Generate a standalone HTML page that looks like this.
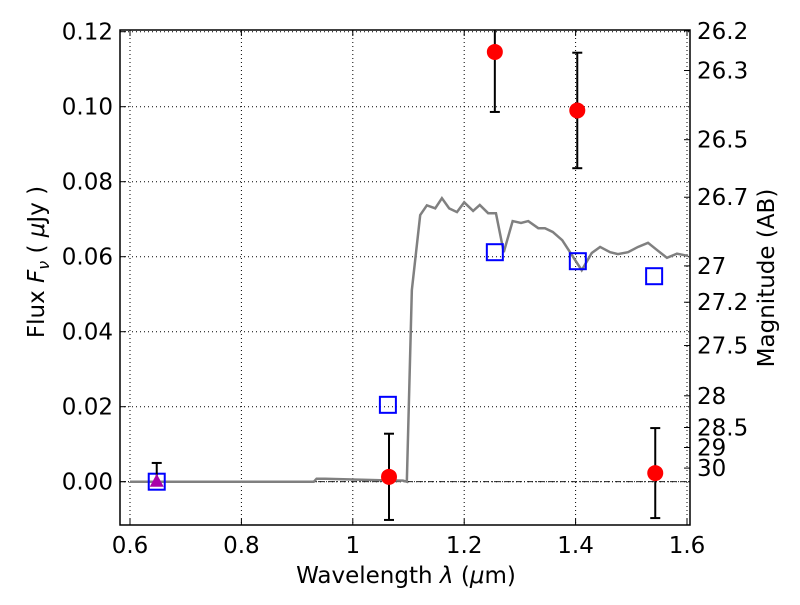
<!DOCTYPE html>
<html><head><meta charset="utf-8"><style>
body{margin:0;background:#fff;}
svg text{font-family:"DejaVu Sans","Liberation Sans",sans-serif;fill:#000;}
</style></head><body>
<svg id="chart" width="800" height="600" xmlns="http://www.w3.org/2000/svg">
<rect width="800" height="600" fill="#fff"/>
<g id="grid"></g>
<g id="marks"></g>
<g id="axes"></g>
<text x="406" y="583" font-size="23" text-anchor="middle">Wavelength  <tspan font-style="italic">λ</tspan> (<tspan font-style="italic">μ</tspan>m)</text>
<text transform="translate(44,262) rotate(-90)" font-size="23" text-anchor="middle">Flux  <tspan font-style="italic">F</tspan><tspan font-style="italic" font-size="16" dy="5">ν</tspan><tspan dy="-5">  (  </tspan><tspan font-style="italic">μ</tspan>Jy )</text>
<text transform="translate(774,278) rotate(-90)" font-size="23" text-anchor="middle">Magnitude (AB)</text>
</svg>
<script>
const specLam=[0.6,0.93,0.935,0.95,1.0,1.05,1.09,1.097,1.106,1.121,1.133,1.148,1.160,1.173,1.187,1.200,1.216,1.228,1.243,1.257,1.271,1.287,1.302,1.315,1.333,1.345,1.359,1.376,1.390,1.411,1.429,1.444,1.462,1.476,1.494,1.512,1.530,1.546,1.564,1.582,1.602];
const specFlux=[0,0,0.0008,0.0008,0.0006,0.0004,0.0003,0,0.0511,0.0711,0.0737,0.0729,0.0756,0.0729,0.0719,0.0745,0.0722,0.0738,0.0716,0.0716,0.0612,0.0695,0.0690,0.0695,0.0676,0.0676,0.0666,0.0644,0.0612,0.0564,0.0610,0.0626,0.0612,0.0607,0.0612,0.0626,0.0637,0.0618,0.0597,0.0608,0.0602];
const obsLam=[1.065,1.255,1.403,1.543];
const obsFlux=[0.0013,0.1146,0.0990,0.0023];
const obsErr=[0.0115,0.0160,0.0154,0.0120];
const modLam=[0.648,1.063,1.255,1.404,1.541];
const modFlux=[0.0,0.0205,0.0612,0.0588,0.0548];
const triLam=[0.648];
const triFlux=[0.0];
const triErr=[0.005];
const xTicks=[0.6,0.8,1.0,1.2,1.4,1.6];
const xTickLabels=["0.6","0.8","1","1.2","1.4","1.6"];
const yTicks=[0,0.02,0.04,0.06,0.08,0.1,0.12];
const yTickLabels=["0.00","0.02","0.04","0.06","0.08","0.10","0.12"];
const magTicks=[26.2,26.3,26.5,26.7,27,27.2,27.5,28,28.5,29,30];
const magTickLabels=["26.2","26.3","26.5","26.7","27","27.2","27.5","28","28.5","29","30"];

const L=120,R=690,T=30,B=525;
const X=v=>130+(v-0.6)*557;
const Y=v=>481.7-v*3750;
const NS="http://www.w3.org/2000/svg";
function mk(parent,tag,attrs){const e=document.createElementNS(NS,tag);for(const k in attrs)e.setAttribute(k,attrs[k]);parent.appendChild(e);return e;}
const grid=document.getElementById('grid'),marks=document.getElementById('marks'),axes=document.getElementById('axes');

xTicks.forEach((t,i)=>{
 let g=mk(grid,'line',{x1:X(t),x2:X(t),y1:T,y2:B,stroke:'#000','stroke-width':1,'stroke-dasharray':'1,3'});
 
 
 mk(axes,'line',{x1:X(t),x2:X(t),y1:B,y2:B-6,stroke:'#000'});
 mk(axes,'line',{x1:X(t),x2:X(t),y1:T,y2:T+6,stroke:'#000'});
 let tx=mk(axes,'text',{x:X(t),y:B+28,'font-size':23,'text-anchor':'middle'});tx.textContent=xTickLabels[i];
 
 
});
yTicks.forEach((t,i)=>{
 let g=mk(grid,'line',{x1:L,x2:R,y1:Y(t),y2:Y(t),stroke:'#000','stroke-width':1,'stroke-dasharray':'1,3'});
 
 
 mk(axes,'line',{x1:L,x2:L+6,y1:Y(t),y2:Y(t),stroke:'#000'});
 let tx=mk(axes,'text',{x:L-7,y:Y(t)+8,'font-size':23,'text-anchor':'end'});tx.textContent=yTickLabels[i];
 
 
});
magTicks.forEach((m,i)=>{
 const f=Math.pow(10,(23.9-m)/2.5);
 mk(axes,'line',{x1:R,x2:R-6,y1:Y(f),y2:Y(f),stroke:'#000'});
 let tx=mk(axes,'text',{x:R+7,y:Y(f)+8,'font-size':23});tx.textContent=magTickLabels[i];
 
 
});
let z=mk(marks,'line',{x1:L,x2:R,y1:Y(0),y2:Y(0),stroke:'#000','stroke-width':0.8,'stroke-dasharray':'6,2,1,2'});


let p=mk(marks,'polyline',{points:specLam.map((l,i)=>X(l)+','+Y(specFlux[i])).join(' '),fill:'none',stroke:'#808080','stroke-width':2.5});


modLam.forEach((l,i)=>{
 let r=mk(marks,'rect',{x:X(l)-8,y:Y(modFlux[i])-8,width:16,height:16,fill:'none',stroke:'#0000ff','stroke-width':2});
 
 
});
triLam.forEach((l,i)=>{
 const x=X(l),y=Y(triFlux[i]);
 mk(marks,'line',{x1:x,x2:x,y1:Y(triFlux[i]+triErr[i]),y2:y,stroke:'#000','stroke-width':2});
 mk(marks,'line',{x1:x-5,x2:x+5,y1:Y(triFlux[i]+triErr[i]),y2:Y(triFlux[i]+triErr[i]),stroke:'#000','stroke-width':2});
 let t=mk(marks,'polygon',{points:`${x},${y-8} ${x-7},${y+5} ${x+7},${y+5}`,fill:'#aa00aa'});
 
 
});
obsLam.forEach((l,i)=>{
 const x=X(l);
 const y1=Math.max(T,Y(obsFlux[i]+obsErr[i])),y2=Y(obsFlux[i]-obsErr[i]);
 mk(marks,'line',{x1:x,x2:x,y1:y1,y2:y2,stroke:'#000','stroke-width':2});
 if(Y(obsFlux[i]+obsErr[i])>=T) mk(marks,'line',{x1:x-5,x2:x+5,y1:y1,y2:y1,stroke:'#000','stroke-width':2});
 mk(marks,'line',{x1:x-5,x2:x+5,y1:y2,y2:y2,stroke:'#000','stroke-width':2});
 let c=mk(marks,'circle',{cx:x,cy:Y(obsFlux[i]),r:8,fill:'#ff0000'});
 
 
});
let fr=mk(axes,'rect',{x:L,y:T,width:R-L,height:B-T,fill:'none',stroke:'#000','stroke-width':1.5});


</script>
</body></html>
